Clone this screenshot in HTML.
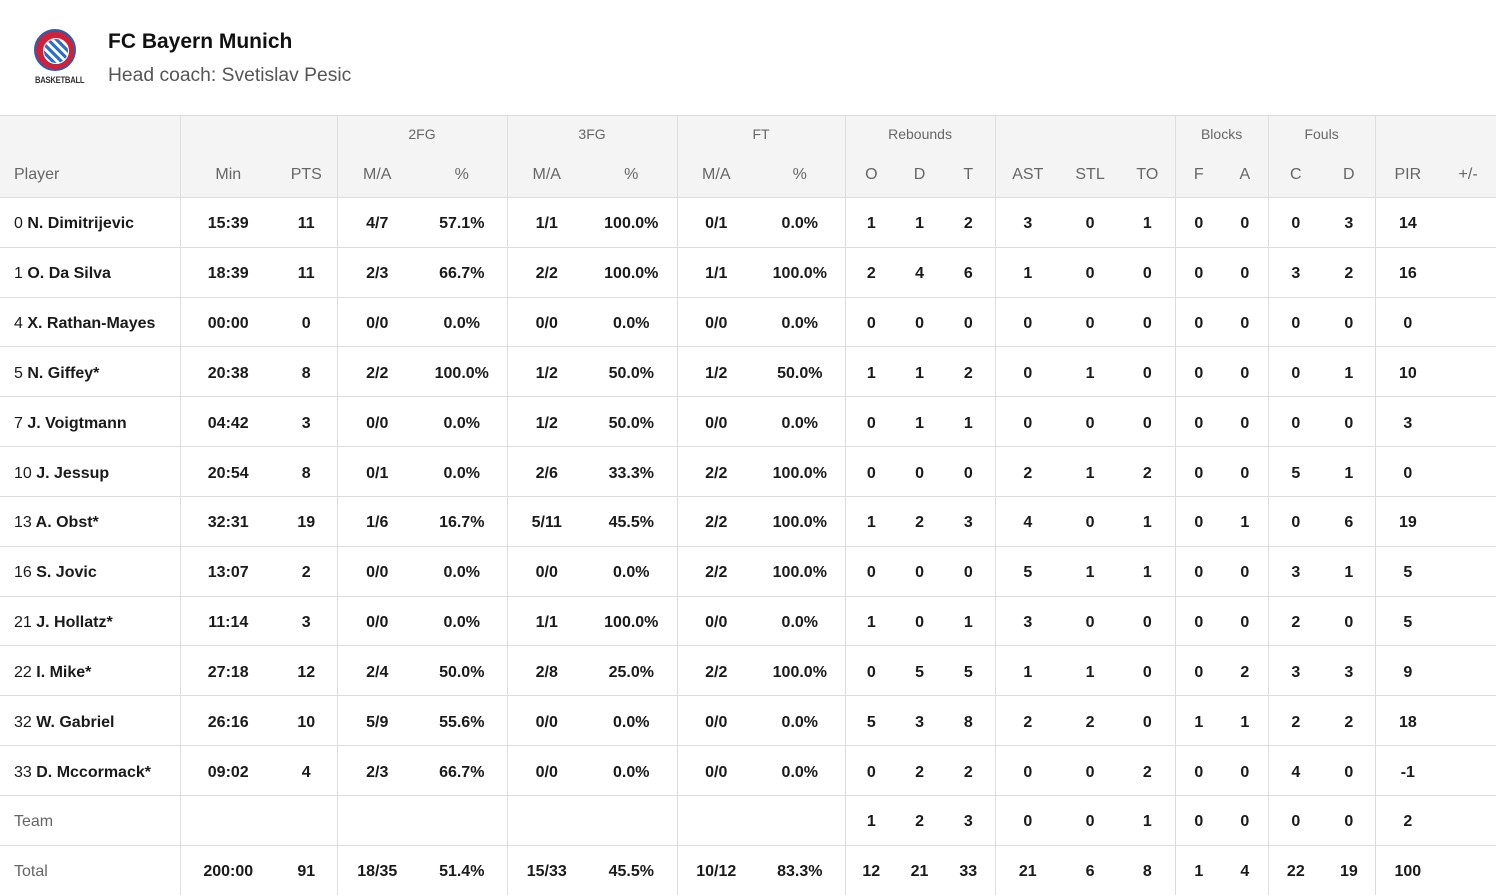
<!DOCTYPE html>
<html><head><meta charset="utf-8"><style>
*{margin:0;padding:0;box-sizing:border-box}
body{width:1496px;height:889px;overflow:hidden;background:#fff;font-family:"Liberation Sans",sans-serif;color:#111;position:relative}
.logo{position:absolute;left:34px;top:29px;width:42px;height:42px;border-radius:50%;background:#d0213a;border:2px solid #2a5fb0}
.logo:after{content:"";position:absolute;left:7px;top:7px;width:24px;height:24px;border-radius:50%;background:repeating-linear-gradient(45deg,#2a6fc8 0 3px,#fff 3px 6px);border:1px solid #fff}
.bb{position:absolute;left:35px;top:75px;font-size:9px;font-weight:bold;color:#333;letter-spacing:-0.3px;transform:scaleX(0.85);transform-origin:left}
.t1{position:absolute;left:108px;top:30px;font-size:21px;font-weight:bold;color:#111}
.t2{position:absolute;left:108px;top:65px;font-size:19.3px;color:#555}
table{position:absolute;left:0;top:115px;width:1496px;border-collapse:collapse;table-layout:fixed}
td,th{text-align:center;font-size:16px;font-weight:bold;white-space:nowrap;padding:0;border-top:1px solid #ddd;color:#1a1a1a}
thead th{background:#f4f4f4;font-weight:normal;color:#666}
thead tr.g th{height:37px;font-size:14px;padding-top:0px}
thead tr.h th{height:45px;vertical-align:middle;font-size:16px;padding-top:1px}
tbody td{height:49.83px;padding-top:4px}
.l{text-align:left;padding-left:14px}
.bl{border-left:1px solid #ddd}
td.l span{font-weight:normal}
td.gr{font-weight:normal;color:#666}
</style></head><body>
<div class="logo"></div><div class="bb">BASKETBALL</div>
<div class="t1">FC Bayern Munich</div>
<div class="t2">Head coach: Svetislav Pesic</div>
<table>
<colgroup><col style="width:180px"><col style="width:96px"><col style="width:61px"><col style="width:80px"><col style="width:90px"><col style="width:79px"><col style="width:91px"><col style="width:78px"><col style="width:90px"><col style="width:52px"><col style="width:45px"><col style="width:53px"><col style="width:65px"><col style="width:60px"><col style="width:55px"><col style="width:47px"><col style="width:46px"><col style="width:55px"><col style="width:52px"><col style="width:65px"><col style="width:56px"></colgroup>
<thead>
<tr class="g"><th></th><th class="bl" colspan="2"></th><th class="bl" colspan="2">2FG</th><th class="bl" colspan="2">3FG</th><th class="bl" colspan="2">FT</th><th class="bl" colspan="3">Rebounds</th><th class="bl" colspan="3"></th><th class="bl" colspan="2">Blocks</th><th class="bl" colspan="2">Fouls</th><th class="bl" colspan="2"></th></tr>
<tr class="h"><th class="l" style="border-top:0">Player</th><th class="bl" style="border-top:0">Min</th><th style="border-top:0">PTS</th><th class="bl" style="border-top:0">M/A</th><th style="border-top:0">%</th><th class="bl" style="border-top:0">M/A</th><th style="border-top:0">%</th><th class="bl" style="border-top:0">M/A</th><th style="border-top:0">%</th><th class="bl" style="border-top:0">O</th><th style="border-top:0">D</th><th style="border-top:0">T</th><th class="bl" style="border-top:0">AST</th><th style="border-top:0">STL</th><th style="border-top:0">TO</th><th class="bl" style="border-top:0">F</th><th style="border-top:0">A</th><th class="bl" style="border-top:0">C</th><th style="border-top:0">D</th><th class="bl" style="border-top:0">PIR</th><th style="border-top:0">+/-</th></tr>
</thead>
<tbody>
<tr><td class="l"><span>0</span> N. Dimitrijevic</td><td class="bl">15:39</td><td>11</td><td class="bl">4/7</td><td>57.1%</td><td class="bl">1/1</td><td>100.0%</td><td class="bl">0/1</td><td>0.0%</td><td class="bl">1</td><td>1</td><td>2</td><td class="bl">3</td><td>0</td><td>1</td><td class="bl">0</td><td>0</td><td class="bl">0</td><td>3</td><td class="bl">14</td><td></td></tr>
<tr><td class="l"><span>1</span> O. Da Silva</td><td class="bl">18:39</td><td>11</td><td class="bl">2/3</td><td>66.7%</td><td class="bl">2/2</td><td>100.0%</td><td class="bl">1/1</td><td>100.0%</td><td class="bl">2</td><td>4</td><td>6</td><td class="bl">1</td><td>0</td><td>0</td><td class="bl">0</td><td>0</td><td class="bl">3</td><td>2</td><td class="bl">16</td><td></td></tr>
<tr><td class="l"><span>4</span> X. Rathan-Mayes</td><td class="bl">00:00</td><td>0</td><td class="bl">0/0</td><td>0.0%</td><td class="bl">0/0</td><td>0.0%</td><td class="bl">0/0</td><td>0.0%</td><td class="bl">0</td><td>0</td><td>0</td><td class="bl">0</td><td>0</td><td>0</td><td class="bl">0</td><td>0</td><td class="bl">0</td><td>0</td><td class="bl">0</td><td></td></tr>
<tr><td class="l"><span>5</span> N. Giffey*</td><td class="bl">20:38</td><td>8</td><td class="bl">2/2</td><td>100.0%</td><td class="bl">1/2</td><td>50.0%</td><td class="bl">1/2</td><td>50.0%</td><td class="bl">1</td><td>1</td><td>2</td><td class="bl">0</td><td>1</td><td>0</td><td class="bl">0</td><td>0</td><td class="bl">0</td><td>1</td><td class="bl">10</td><td></td></tr>
<tr><td class="l"><span>7</span> J. Voigtmann</td><td class="bl">04:42</td><td>3</td><td class="bl">0/0</td><td>0.0%</td><td class="bl">1/2</td><td>50.0%</td><td class="bl">0/0</td><td>0.0%</td><td class="bl">0</td><td>1</td><td>1</td><td class="bl">0</td><td>0</td><td>0</td><td class="bl">0</td><td>0</td><td class="bl">0</td><td>0</td><td class="bl">3</td><td></td></tr>
<tr><td class="l"><span>10</span> J. Jessup</td><td class="bl">20:54</td><td>8</td><td class="bl">0/1</td><td>0.0%</td><td class="bl">2/6</td><td>33.3%</td><td class="bl">2/2</td><td>100.0%</td><td class="bl">0</td><td>0</td><td>0</td><td class="bl">2</td><td>1</td><td>2</td><td class="bl">0</td><td>0</td><td class="bl">5</td><td>1</td><td class="bl">0</td><td></td></tr>
<tr><td class="l"><span>13</span> A. Obst*</td><td class="bl">32:31</td><td>19</td><td class="bl">1/6</td><td>16.7%</td><td class="bl">5/11</td><td>45.5%</td><td class="bl">2/2</td><td>100.0%</td><td class="bl">1</td><td>2</td><td>3</td><td class="bl">4</td><td>0</td><td>1</td><td class="bl">0</td><td>1</td><td class="bl">0</td><td>6</td><td class="bl">19</td><td></td></tr>
<tr><td class="l"><span>16</span> S. Jovic</td><td class="bl">13:07</td><td>2</td><td class="bl">0/0</td><td>0.0%</td><td class="bl">0/0</td><td>0.0%</td><td class="bl">2/2</td><td>100.0%</td><td class="bl">0</td><td>0</td><td>0</td><td class="bl">5</td><td>1</td><td>1</td><td class="bl">0</td><td>0</td><td class="bl">3</td><td>1</td><td class="bl">5</td><td></td></tr>
<tr><td class="l"><span>21</span> J. Hollatz*</td><td class="bl">11:14</td><td>3</td><td class="bl">0/0</td><td>0.0%</td><td class="bl">1/1</td><td>100.0%</td><td class="bl">0/0</td><td>0.0%</td><td class="bl">1</td><td>0</td><td>1</td><td class="bl">3</td><td>0</td><td>0</td><td class="bl">0</td><td>0</td><td class="bl">2</td><td>0</td><td class="bl">5</td><td></td></tr>
<tr><td class="l"><span>22</span> I. Mike*</td><td class="bl">27:18</td><td>12</td><td class="bl">2/4</td><td>50.0%</td><td class="bl">2/8</td><td>25.0%</td><td class="bl">2/2</td><td>100.0%</td><td class="bl">0</td><td>5</td><td>5</td><td class="bl">1</td><td>1</td><td>0</td><td class="bl">0</td><td>2</td><td class="bl">3</td><td>3</td><td class="bl">9</td><td></td></tr>
<tr><td class="l"><span>32</span> W. Gabriel</td><td class="bl">26:16</td><td>10</td><td class="bl">5/9</td><td>55.6%</td><td class="bl">0/0</td><td>0.0%</td><td class="bl">0/0</td><td>0.0%</td><td class="bl">5</td><td>3</td><td>8</td><td class="bl">2</td><td>2</td><td>0</td><td class="bl">1</td><td>1</td><td class="bl">2</td><td>2</td><td class="bl">18</td><td></td></tr>
<tr><td class="l"><span>33</span> D. Mccormack*</td><td class="bl">09:02</td><td>4</td><td class="bl">2/3</td><td>66.7%</td><td class="bl">0/0</td><td>0.0%</td><td class="bl">0/0</td><td>0.0%</td><td class="bl">0</td><td>2</td><td>2</td><td class="bl">0</td><td>0</td><td>2</td><td class="bl">0</td><td>0</td><td class="bl">4</td><td>0</td><td class="bl">-1</td><td></td></tr>
<tr><td class="l gr">Team</td><td class="bl"></td><td></td><td class="bl"></td><td></td><td class="bl"></td><td></td><td class="bl"></td><td></td><td class="bl">1</td><td>2</td><td>3</td><td class="bl">0</td><td>0</td><td>1</td><td class="bl">0</td><td>0</td><td class="bl">0</td><td>0</td><td class="bl">2</td><td></td></tr>
<tr><td class="l gr">Total</td><td class="bl">200:00</td><td>91</td><td class="bl">18/35</td><td>51.4%</td><td class="bl">15/33</td><td>45.5%</td><td class="bl">10/12</td><td>83.3%</td><td class="bl">12</td><td>21</td><td>33</td><td class="bl">21</td><td>6</td><td>8</td><td class="bl">1</td><td>4</td><td class="bl">22</td><td>19</td><td class="bl">100</td><td></td></tr>
</tbody></table>
</body></html>
